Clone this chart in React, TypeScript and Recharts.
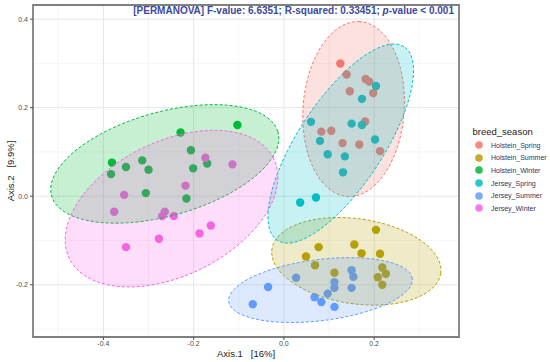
import React from "react";
import {
  ScatterChart,
  Scatter,
  XAxis,
  YAxis,
  CartesianGrid,
  ReferenceArea,
  Label,
  Legend,
} from "recharts";

// groups and ggplot default hue palette
const groups = [
  "Holstein_Spring",
  "Holstein_Summer",
  "Holstein_Winter",
  "Jersey_Spring",
  "Jersey_Summer",
  "Jersey_Winter",
];
const colors = ["#F8766D", "#B79F00", "#00BA38", "#00BFC4", "#619CFF", "#F564E3"];

// PCoA coordinates [Axis.1, Axis.2]
const holsteinSpring = [
  [0.125, 0.3], [0.139, 0.275], [0.181, 0.265], [0.189, 0.259], [0.146, 0.237], [0.198, 0.233],
  [0.18, 0.169], [0.083, 0.146], [0.105, 0.148], [0.13, 0.12], [0.167, 0.117], [0.213, 0.102],
];
const holsteinSummer = [
  [0.204, -0.076], [0.077, -0.115], [0.156, -0.109], [0.172, -0.129], [0.213, -0.13], [0.049, -0.136],
  [0.069, -0.156], [0.112, -0.173], [0.218, -0.161], [0.226, -0.175], [0.208, -0.183], [0.218, -0.2],
];
const holsteinWinter = [
  [-0.381, 0.076], [-0.383, 0.05], [-0.35, 0.066], [-0.314, 0.081], [-0.3, 0.06], [-0.306, 0.007],
  [-0.229, 0.144], [-0.206, 0.104], [-0.201, 0.063], [-0.17, 0.074], [-0.216, -0.005], [-0.103, 0.161],
];
const jerseySpring = [
  [0.204, 0.249], [0.173, 0.22], [0.06, 0.168], [0.15, 0.164], [0.173, 0.161], [0.08, 0.125],
  [0.202, 0.128], [0.097, 0.095], [0.135, 0.09], [0.131, 0.054], [0.036, -0.014], [0.071, -0.003],
];
const jerseySummer = [
  [0.15, -0.167], [0.154, -0.182], [0.027, -0.184], [0.112, -0.194], [0.112, -0.207], [0.15, -0.207],
  [0.097, -0.22], [0.068, -0.228], [0.083, -0.239], [0.112, -0.25], [-0.035, -0.205], [-0.069, -0.244],
];
const jerseyWinter = [
  [-0.174, 0.087], [-0.114, 0.072], [-0.218, 0.024], [-0.354, 0.003], [-0.376, -0.035], [-0.264, -0.035],
  [-0.27, -0.045], [-0.244, -0.045], [-0.162, -0.066], [-0.187, -0.084], [-0.277, -0.096], [-0.35, -0.115],
];
const groupPoints = [holsteinSpring, holsteinSummer, holsteinWinter, jerseySpring, jerseySummer, jerseyWinter];

// 95% ellipses: centre, semi-axes (data units), tilt in degrees
const ellipseCx = [0.1545, 0.1605, -0.264, 0.126, 0.081, -0.249];
const ellipseCy = [0.197, -0.147, 0.073, 0.119, -0.212, -0.028];
const ellipseMajor = [0.198, 0.189, 0.261, 0.26, 0.205, 0.253];
const ellipseMinor = [0.112, 0.096, 0.117, 0.095, 0.069, 0.151];
const ellipseAngle = [86, -8.4, 16.2, 57.4, 7.3, 27];

// axes
const xDomain = [-0.556, 0.388];
const yDomain = [-0.318, 0.432];
const xTicks = [-0.5, -0.4, -0.3, -0.2, -0.1, 0, 0.1, 0.2, 0.3];
const yTicks = [-0.3, -0.2, -0.1, 0, 0.1, 0.2, 0.3, 0.4];
const xMajor = [-0.4, -0.2, 0, 0.2];
const yMajor = [-0.2, 0, 0.2, 0.4];
const xMinor = [-0.5, -0.3, -0.1, 0.1, 0.3];
const yMinor = [-0.3, -0.1, 0.1, 0.3];

const FONT = "'Liberation Sans', Arial, sans-serif";

const isMajor = (v: number, list: number[]) => list.some((m) => Math.abs(m - v) < 1e-9);

function ellipseOutline(i: number) {
  const th = (ellipseAngle[i] * Math.PI) / 180;
  const pts = [];
  for (let k = 0; k < 120; k++) {
    const t = (k / 120) * Math.PI * 2;
    const a = ellipseMajor[i] * Math.cos(t);
    const b = ellipseMinor[i] * Math.sin(t);
    pts.push({
      x: ellipseCx[i] + a * Math.cos(th) - b * Math.sin(th),
      y: ellipseCy[i] + a * Math.sin(th) + b * Math.cos(th),
    });
  }
  return pts;
}

function XTick(props: any) {
  const { x, y, payload } = props;
  if (!isMajor(payload.value, xMajor)) return <g />;
  return (
    <g>
      <line x1={x} x2={x} y1={y - 5} y2={y - 2} stroke="#4d4d4d" strokeWidth={1} />
      <text x={x} y={y + 4} textAnchor="middle" fontSize={7} fill="#4d4d4d" fontFamily={FONT}>
        {Number(payload.value).toFixed(1)}
      </text>
    </g>
  );
}

function YTick(props: any) {
  const { x, y, payload } = props;
  if (!isMajor(payload.value, yMajor)) return <g />;
  return (
    <g>
      <line x1={x + 2} x2={x + 5} y1={y} y2={y} stroke="#4d4d4d" strokeWidth={1} />
      <text x={x} y={y + 2.5} textAnchor="end" fontSize={7} fill="#4d4d4d" fontFamily={FONT}>
        {Number(payload.value).toFixed(1)}
      </text>
    </g>
  );
}

function XTitle(props: any) {
  const { viewBox } = props;
  return (
    <text
      x={viewBox.x + viewBox.width / 2}
      y={viewBox.y + 19.5}
      textAnchor="middle"
      fontSize={9.5}
      fill="#1a1a1a"
      fontFamily={FONT}
      style={{ whiteSpace: "pre" }}
    >
      {"Axis.1   [16%]"}
    </text>
  );
}

function YTitle(props: any) {
  const { viewBox } = props;
  const cx = viewBox.x + 10;
  const cy = viewBox.y + viewBox.height / 2;
  return (
    <text
      x={cx}
      y={cy}
      transform={`rotate(-90 ${cx} ${cy})`}
      textAnchor="middle"
      dominantBaseline="central"
      fontSize={9.5}
      fill="#1a1a1a"
      fontFamily={FONT}
      style={{ whiteSpace: "pre" }}
    >
      {"Axis.2   [9.9%]"}
    </text>
  );
}

function LegendBox() {
  return (
    <div style={{ fontFamily: FONT }}>
      <div style={{ fontSize: 9.5, lineHeight: "14px", color: "#1a1a1a", marginLeft: 2.5 }}>breed_season</div>
      {groups.map((g, i) => (
        <div key={g} style={{ display: "flex", alignItems: "center", height: 12.6 }}>
          <svg width={10} height={10} style={{ marginLeft: 4, marginRight: 7 }}>
            <circle cx={5} cy={5} r={3.8} fill={colors[i]} fillOpacity={0.85} />
          </svg>
          <span style={{ fontSize: 7, color: "#2e3560" }}>{g}</span>
        </div>
      ))}
    </div>
  );
}

export default function App() {
  return (
    <div style={{ position: "absolute", left: 0, top: 0, width: 550, height: 362, background: "#fff" }}>
      <ScatterChart width={550} height={362} margin={{ top: 5, right: 91, bottom: 0, left: 0 }}>
        <CartesianGrid stroke="#f1f1f1" strokeWidth={0.7} verticalValues={xMinor} horizontalValues={yMinor} />
        <CartesianGrid stroke="#e6e6e6" strokeWidth={1} verticalValues={xMajor} horizontalValues={yMajor} />
        <XAxis
          type="number"
          dataKey="x"
          domain={xDomain}
          ticks={xTicks}
          interval={0}
          allowDataOverflow
          height={25}
          axisLine={false}
          tickLine={false}
          tickSize={4}
          tickMargin={1}
          tick={<XTick />}
        >
          <Label content={<XTitle />} />
        </XAxis>
        <YAxis
          type="number"
          dataKey="y"
          domain={yDomain}
          ticks={yTicks}
          interval={0}
          allowDataOverflow
          width={33}
          axisLine={false}
          tickLine={false}
          tickSize={4}
          tickMargin={1}
          tick={<YTick />}
        >
          <Label content={<YTitle />} />
        </YAxis>
        <Legend
          layout="horizontal"
          verticalAlign="middle"
          align="center"
          wrapperStyle={{ left: 470, top: 125, width: 80 }}
          content={<LegendBox />}
        />
        {groups.map((g, i) => (
          <Scatter
            key={g}
            name={g}
            data={groupPoints[i].map(([x, y]) => ({ x, y }))}
            fill={colors[i]}
            isAnimationActive={false}
            shape={(p: any) => <circle cx={p.cx} cy={p.cy} r={4.2} fill={colors[i]} />}
          />
        ))}
        {groups.map((g, i) => (
          <Scatter
            key={g + "_ellipse"}
            name={g + " ellipse"}
            legendType="none"
            data={ellipseOutline(i)}
            fill={colors[i]}
            isAnimationActive={false}
            shape={() => <g />}
            lineType="joint"
            lineJointType="linearClosed"
            line={{
              stroke: colors[i],
              strokeWidth: 1,
              strokeDasharray: "3 2",
              fill: colors[i],
              fillOpacity: 0.22,
            }}
          />
        ))}
        <ReferenceArea
          x1={xDomain[0]}
          x2={xDomain[1]}
          y1={yDomain[0]}
          y2={yDomain[1]}
          fill="none"
          stroke="#7f7f7f"
          strokeWidth={1.8}
          ifOverflow="visible"
        />
      </ScatterChart>
      <div
        style={{
          position: "absolute",
          left: 0,
          top: 4,
          width: 454,
          textAlign: "right",
          fontFamily: FONT,
          fontWeight: "bold",
          fontSize: 10,
          lineHeight: "13px",
          color: "#3c4a9e",
          whiteSpace: "pre",
        }}
      >
        {"[PERMANOVA] F-value: 6.6351; R-squared: 0.33451; "}
        <i>p</i>
        {"-value < 0.001"}
      </div>
    </div>
  );
}
